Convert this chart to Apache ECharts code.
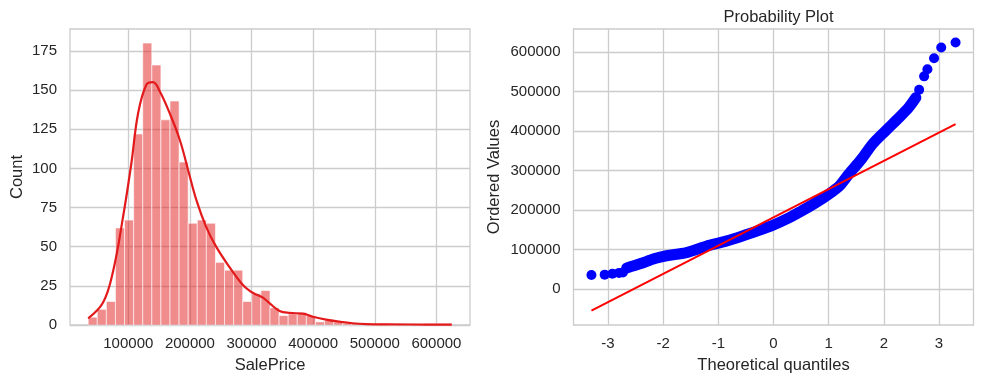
<!DOCTYPE html>
<html>
<head>
<meta charset="utf-8">
<script src="https://cdn.jsdelivr.net/npm/echarts@6/dist/echarts.min.js"></script>
<style>
html,body{margin:0;padding:0;background:#fff;}
#c{width:984px;height:383px;}
</style>
</head>
<body>
<div id="c"></div>
<script>
// ---- Histogram of SalePrice (40 bins) ----
const binEdges = [34900, 49652.5, 64405, 79157.5, 93910, 108662.5, 123415, 138167.5, 152920, 167672.5,
  182425, 197177.5, 211930, 226682.5, 241435, 256187.5, 270940, 285692.5, 300445, 315197.5,
  329950, 344702.5, 359455, 374207.5, 388960, 403712.5, 418465, 433217.5, 447970, 462722.5,
  477475, 492227.5, 506980, 521732.5, 536485, 551237.5, 565990, 580742.5, 595495, 610247.5, 625000];
const binCounts = [5, 10, 15, 62, 67, 122, 180, 166, 131, 143,
  104, 65, 67, 65, 40, 35, 35, 15, 20, 22,
  11, 6, 7, 8, 6, 2, 3, 2, 1, 1,
  1, 0, 1, 0, 1, 1, 0, 1, 1, 1];
// KDE curve
const kdePrice = [34900, 59000, 75500, 91500, 105000, 116000, 129500, 140000, 151000, 167000,
  183500, 197000, 210500, 226500, 243000, 264500, 286000, 297000, 307500, 318500,
  329000, 345500, 361500, 383000, 399500, 421000, 442500, 464000, 486000, 523500, 583000, 625000];
const kdeCount = [4.3, 14.3, 34.7, 69, 103.3, 135.4, 153.6, 155.1, 149.3, 135.4,
  118.3, 99, 79.7, 62.5, 49.7, 36.8, 25.5, 21.8, 19.5, 17.5,
  14, 9, 7.7, 7.3, 5.3, 3.4, 2.1, 1.1, 0.6, 0.4, 0.3, 0.3];
const histXTicks = [100000, 200000, 300000, 400000, 500000, 600000];

// ---- Probability plot ----
// isolated points at both tails
const qqDotQ = [-3.30, -3.06, -2.92, -2.80, -2.73, 2.64, 2.73, 2.79, 2.91, 3.04, 3.30];
const qqDotV = [35000, 36000, 38500, 40500, 41500, 505000, 539000, 557000, 585000, 612000, 625000];
// dense band of points
const qqBandQ = [-2.66, -2.42, -2.15, -1.94, -1.58, -1.22, -0.86, -0.50, -0.25, 0,
  0.25, 0.50, 0.75, 1.00, 1.20, 1.37, 1.60, 1.80, 2.04, 2.28, 2.45, 2.58];
const qqBandV = [53000, 63500, 77000, 84000, 92000, 108000, 121000, 137000, 149000, 162000,
  178000, 197000, 217000, 240000, 262000, 292000, 330000, 368000, 402000, 435000, 460000, 485000];
// least-squares fit line
const fitQ = [-3.30, 3.30];
const fitV = [-55000, 418000];
const qqXTicks = [-3, -2, -1, 0, 1, 2, 3];
const qqYTicks = [0, 100000, 200000, 300000, 400000, 500000, 600000];

const FONT = '"Liberation Sans", Arial, sans-serif';
const TXT = '#262626';
const GRIDC = '#cccccc';

const histData = binCounts.map((c, i) => [binEdges[i], binEdges[i + 1], c]);
const kdeData = kdePrice.map((p, i) => [p, kdeCount[i]]);
const dotData = qqDotQ.map((q, i) => [q, qqDotV[i]]);
const bandData = qqBandQ.map((q, i) => [q, qqBandV[i]]);
const fitData = fitQ.map((q, i) => [q, fitV[i]]);

const labelStyle = {color: TXT, fontSize: 15, fontFamily: FONT};
const nameStyle = {color: TXT, fontSize: 16.5, fontFamily: FONT};

const chart = echarts.init(document.getElementById('c'), null, {renderer: 'canvas'});
chart.setOption({
  animation: false,
  backgroundColor: '#ffffff',
  title: {
    text: 'Probability Plot', left: 773.5, top: 4, textAlign: 'center',
    textStyle: {color: TXT, fontSize: 16.5, fontWeight: 'normal', fontFamily: FONT}
  },
  grid: [
    {left: 70, top: 29, width: 400, height: 296, show: true, borderColor: GRIDC, borderWidth: 1.3, backgroundColor: 'transparent'},
    {left: 573.5, top: 29, width: 400, height: 296, show: true, borderColor: GRIDC, borderWidth: 1.3, backgroundColor: 'transparent'}
  ],
  xAxis: [
    {
      type: 'value', gridIndex: 0, min: 5395, max: 654505,
      name: 'SalePrice', nameLocation: 'middle', nameGap: 32, nameTextStyle: nameStyle,
      axisLine: {show: false}, axisTick: {show: false, customValues: histXTicks},
      axisLabel: Object.assign({customValues: histXTicks, margin: 11, formatter: v => String(v)}, labelStyle),
      splitLine: {show: true, lineStyle: {color: GRIDC, width: 1.3}}
    },
    {
      type: 'value', gridIndex: 1, min: -3.625, max: 3.625,
      name: 'Theoretical quantiles', nameLocation: 'middle', nameGap: 32, nameTextStyle: nameStyle,
      axisLine: {show: false}, axisTick: {show: false, customValues: qqXTicks},
      axisLabel: Object.assign({customValues: qqXTicks, margin: 11, formatter: v => String(v)}, labelStyle),
      splitLine: {show: true, lineStyle: {color: GRIDC, width: 1.3}}
    }
  ],
  yAxis: [
    {
      type: 'value', gridIndex: 0, min: 0, max: 189, interval: 25,
      name: 'Count', nameLocation: 'middle', nameGap: 44, nameTextStyle: nameStyle,
      axisLine: {show: false}, axisTick: {show: false},
      axisLabel: Object.assign({margin: 13, showMaxLabel: false, formatter: v => String(v)}, labelStyle),
      splitLine: {show: true, showMaxLine: false, lineStyle: {color: GRIDC, width: 1.3}}
    },
    {
      type: 'value', gridIndex: 1, min: -91700, max: 659100,
      name: 'Ordered Values', nameLocation: 'middle', nameGap: 71, nameTextStyle: nameStyle,
      axisLine: {show: false}, axisTick: {show: false, customValues: qqYTicks},
      axisLabel: Object.assign({customValues: qqYTicks, margin: 13, formatter: v => String(v)}, labelStyle),
      splitLine: {show: true, lineStyle: {color: GRIDC, width: 1.3}}
    }
  ],
  series: [
    {
      type: 'custom', xAxisIndex: 0, yAxisIndex: 0, data: histData,
      encode: {x: [0, 1], y: 2},
      renderItem: function (params, api) {
        const p0 = api.coord([api.value(0), api.value(2)]);
        const p1 = api.coord([api.value(1), 0]);
        return {
          type: 'rect',
          shape: {x: p0[0], y: p0[1], width: p1[0] - p0[0], height: p1[1] - p0[1]},
          style: {fill: 'rgba(227,26,28,0.5)', stroke: 'rgba(255,255,255,0.6)', lineWidth: 1}
        };
      },
      z: 2
    },
    {
      type: 'line', xAxisIndex: 0, yAxisIndex: 0, data: kdeData, smooth: 0.4,
      showSymbol: false, lineStyle: {color: '#e31a1c', width: 2.2}, z: 3
    },
    {
      type: 'line', xAxisIndex: 1, yAxisIndex: 1, data: bandData, smooth: 0.3,
      showSymbol: false, lineStyle: {color: '#0000ff', width: 11, cap: 'round', join: 'round'}, z: 2
    },
    {
      type: 'scatter', xAxisIndex: 1, yAxisIndex: 1, data: dotData,
      symbol: 'circle', symbolSize: 10, itemStyle: {color: '#0000ff', opacity: 1}, z: 2
    },
    {
      type: 'line', xAxisIndex: 1, yAxisIndex: 1, data: fitData,
      showSymbol: false, lineStyle: {color: '#ff0000', width: 2}, z: 4
    }
  ]
});
</script>
</body>
</html>
